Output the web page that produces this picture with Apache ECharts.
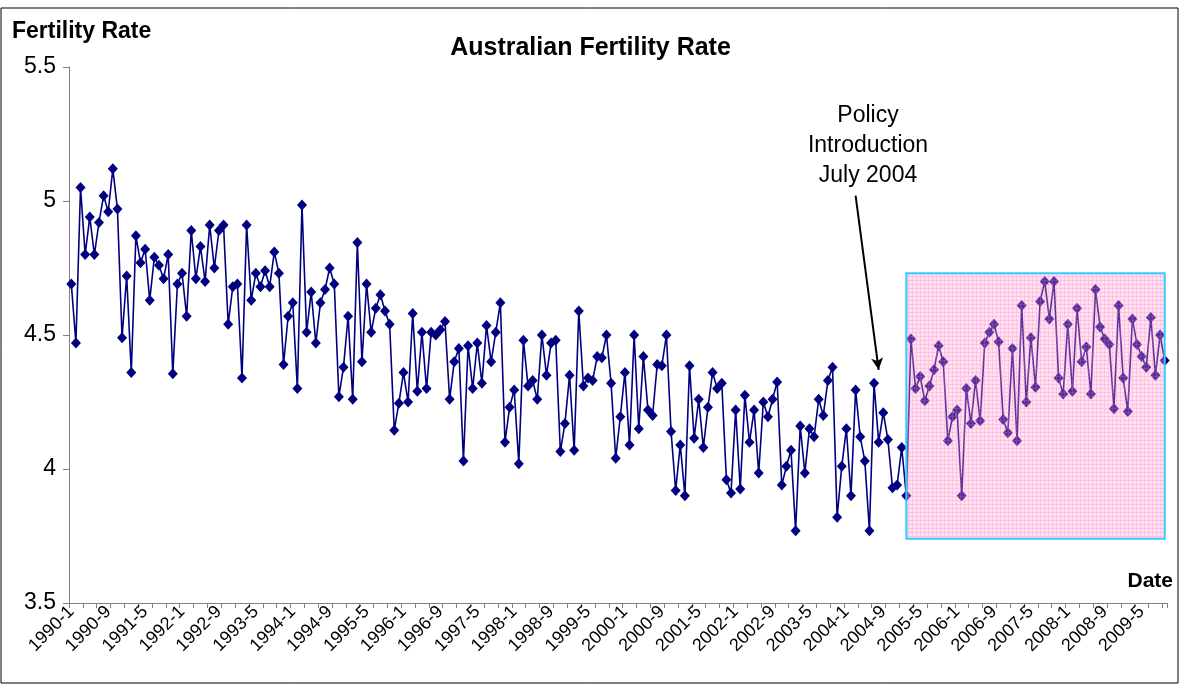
<!DOCTYPE html>
<html style="height: 100%">

<head>
    <meta charset="UTF-8" />
    <script type="text/javascript" src="https://cdn.jsdelivr.net/npm/echarts@6/dist/echarts.min.js"></script>
</head>

<body style="height: 100%; margin: 0; background: #fff">
    <div id="container" style="width: 1181px; height: 684px"></div>
    <script>
        // monthly dates, 1990-1 .. 2009-10
        var startYear = 1990;
        var monthCount = 238;

        var fertility = [
            4.69, 4.47, 5.05, 4.80, 4.94, 4.80, 4.92, 5.02, 4.96, 5.12, 4.97, 4.49, 4.72, 4.36, 4.87, 4.77, 4.82, 4.63, 4.79,
            4.76, 4.71, 4.80, 4.355, 4.69, 4.73, 4.57, 4.89, 4.71, 4.83, 4.70, 4.91, 4.75, 4.89, 4.91, 4.54, 4.68, 4.69, 4.34, 4.91, 4.63,
            4.73, 4.68, 4.74, 4.68, 4.81, 4.73, 4.39, 4.57, 4.62, 4.30, 4.985, 4.51, 4.66, 4.47, 4.62, 4.67, 4.75, 4.69, 4.27, 4.38, 4.57,
            4.26, 4.845, 4.40, 4.69, 4.51, 4.60, 4.65, 4.59, 4.54, 4.145, 4.245, 4.36, 4.25, 4.58, 4.29, 4.51, 4.30, 4.51, 4.50, 4.52, 4.55,
            4.26, 4.40, 4.45, 4.03, 4.46, 4.30, 4.47, 4.32, 4.535, 4.40, 4.51, 4.62, 4.10, 4.23, 4.295, 4.02, 4.48, 4.31, 4.33, 4.26,
            4.50, 4.35, 4.47, 4.48, 4.065, 4.17, 4.35, 4.07, 4.59, 4.31, 4.34, 4.33, 4.42, 4.415, 4.50, 4.32, 4.04, 4.195, 4.36, 4.09, 4.50,
            4.15, 4.42, 4.22, 4.20, 4.39, 4.385, 4.50, 4.14, 3.92, 4.09, 3.90, 4.385, 4.115, 4.26, 4.08, 4.23, 4.36, 4.30, 4.32, 3.96,
            3.91, 4.22, 3.925, 4.275, 4.10, 4.22, 3.985, 4.25, 4.195, 4.26, 4.325, 3.94, 4.01, 4.07, 3.77, 4.16, 3.985, 4.15, 4.12, 4.26, 4.20,
            4.33, 4.38, 3.82, 4.01, 4.15, 3.90, 4.295, 4.12, 4.03, 3.77, 4.32, 4.10, 4.21, 4.11, 3.93, 3.94, 4.08, 3.90,
            4.485, 4.30, 4.345, 4.255, 4.31, 4.37, 4.46, 4.40, 4.105, 4.195, 4.22, 3.90, 4.30, 4.17, 4.33, 4.18, 4.47, 4.51, 4.54, 4.475,
            4.185, 4.135, 4.45, 4.105, 4.61, 4.25, 4.49, 4.305, 4.625, 4.70, 4.56, 4.70, 4.34, 4.28, 4.54, 4.29, 4.60, 4.40, 4.455, 4.28, 4.67,
            4.53, 4.485, 4.465, 4.225, 4.61, 4.34, 4.215, 4.56, 4.465, 4.42, 4.38, 4.565, 4.35, 4.50, 4.405
        ];

        // policy arrow and highlighted period
        var arrowFrom = ['2004-3', 5.02];
        var arrowTo = ['2004-8', 4.37];
        var boxFrom = ['2005-2', 4.73];
        var boxTo = ['2009-10', 3.74];

        var dates = [];
        for (var i = 0; i < monthCount; i++) {
            dates.push((startYear + Math.floor(i / 12)) + '-' + (i % 12 + 1));
        }

        // pink hatched fill for the box (drawn over the line, so markers get tinted)
        var pat = document.createElement('canvas');
        pat.width = 4;
        pat.height = 4;
        var pctx = pat.getContext('2d');
        pctx.fillStyle = 'rgba(255,160,210,0.32)';
        pctx.fillRect(0, 0, 4, 4);
        pctx.fillStyle = 'rgba(255,110,185,0.22)';
        pctx.fillRect(0, 0, 4, 1);
        pctx.fillRect(0, 0, 1, 4);

        var font = '"Liberation Sans", Arial, sans-serif';
        var dom = document.getElementById("container");
        var chart = echarts.init(dom);

        chart.setOption({
            animation: false,
            textStyle: { fontFamily: font },
            grid: { left: 69, right: 14, top: 67, bottom: 81 },
            xAxis: {
                type: 'category',
                data: dates,
                boundaryGap: true,
                axisLine: { lineStyle: { color: '#808080', width: 1 } },
                axisTick: { show: true, interval: 2, length: 5, lineStyle: { color: '#808080' } },
                axisLabel: {
                    interval: 7,
                    rotate: 45,
                    margin: 6,
                    fontSize: 18,
                    color: '#000',
                    fontFamily: font
                },
                splitLine: { show: false }
            },
            yAxis: {
                type: 'value',
                min: 3.5,
                max: 5.5,
                interval: 0.5,
                axisLine: { show: true, lineStyle: { color: '#808080', width: 1 } },
                axisTick: { show: true, length: 6, lineStyle: { color: '#808080' } },
                axisLabel: { fontSize: 23, color: '#000', margin: 13, fontFamily: font },
                splitLine: { show: false }
            },
            graphic: [
                {
                    type: 'rect',
                    shape: { x: 1, y: 8, width: 1177, height: 675 },
                    style: { fill: 'none', stroke: '#000', lineWidth: 1 },
                    silent: true
                },
                {
                    type: 'text', left: 12, top: 20,
                    style: { text: 'Fertility Rate', font: 'bold 23px ' + font, fill: '#000' }
                },
                {
                    type: 'text', left: 'center', top: 36,
                    style: { text: 'Australian Fertility Rate', font: 'bold 25px ' + font, fill: '#000' }
                },
                {
                    type: 'text', right: 8, top: 571,
                    style: { text: 'Date', font: 'bold 21px ' + font, fill: '#000' }
                },
                {
                    type: 'text', x: 868, y: 101,
                    style: {
                        text: 'Policy\nIntroduction\nJuly 2004',
                        font: '23px ' + font,
                        fill: '#000',
                        align: 'center',
                        lineHeight: 30
                    }
                }
            ],
            series: [
                {
                    type: 'line',
                    data: fertility,
                    z: 3,
                    symbol: 'diamond',
                    symbolSize: [10, 11],
                    showAllSymbol: true,
                    lineStyle: { color: '#000080', width: 1.6 },
                    itemStyle: { color: '#000080', borderWidth: 0 },
                    markLine: {
                        silent: true,
                        symbol: ['none', 'arrow'],
                        symbolSize: [9, 12],
                        label: { show: false },
                        lineStyle: { color: '#000', width: 2, type: 'solid' },
                        data: [[{ coord: arrowFrom }, { coord: arrowTo }]]
                    }
                },
                {
                    type: 'line',
                    data: [],
                    zlevel: 1,
                    z: 10,
                    markArea: {
                        silent: true,
                        zlevel: 1,
                        z: 10,
                        itemStyle: {
                            color: { image: pat, repeat: 'repeat' },
                            borderColor: '#33ccff',
                            borderWidth: 2
                        },
                        data: [[{ coord: boxFrom }, { coord: boxTo }]]
                    }
                }
            ]
        });
    </script>
</body>

</html>
